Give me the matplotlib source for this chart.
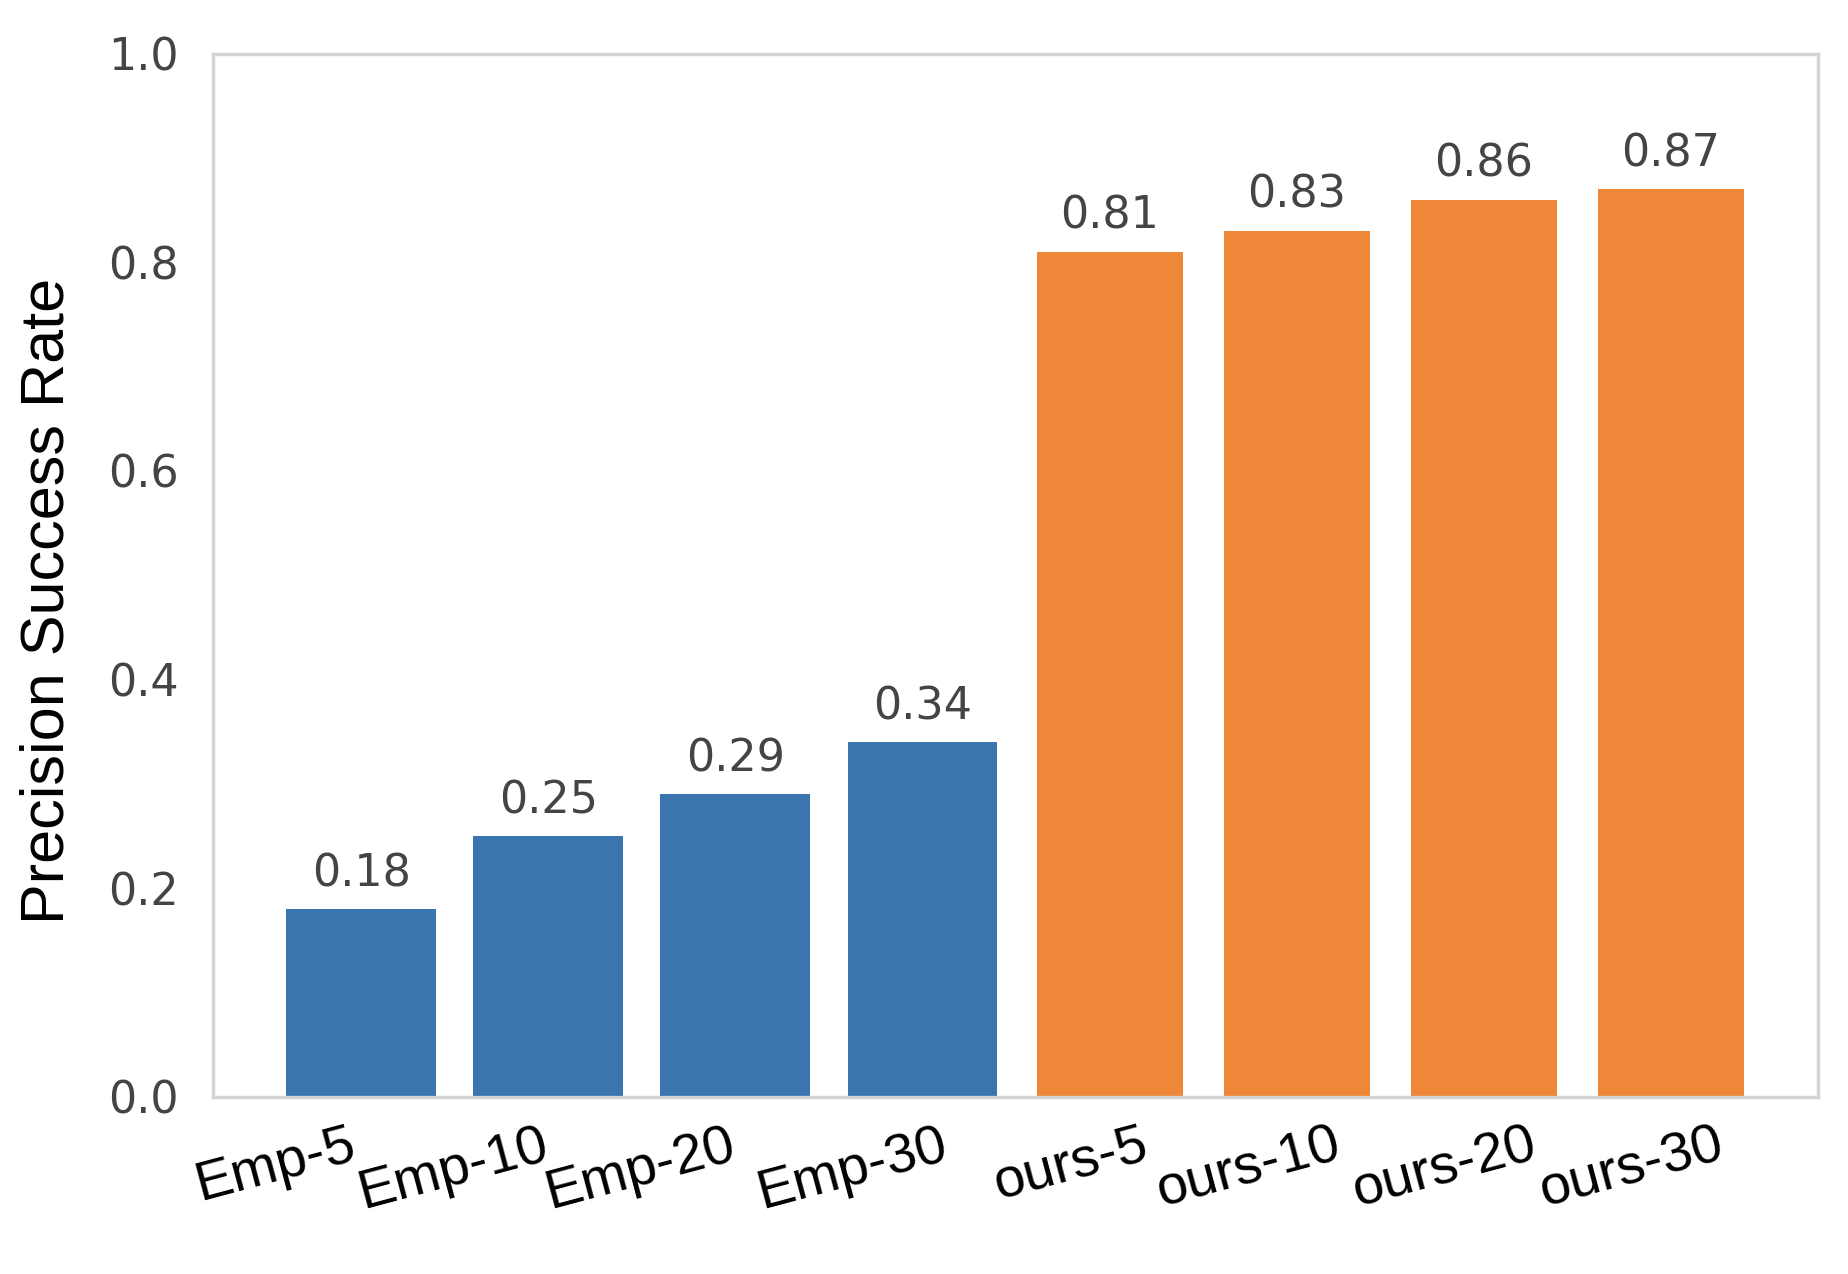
import matplotlib.pyplot as plt
from matplotlib.transforms import ScaledTranslation

# data
labels = ['Emp-5', 'Emp-10', 'Emp-20', 'Emp-30', 'ours-5', 'ours-10', 'ours-20', 'ours-30']
values = [0.18, 0.25, 0.29, 0.34, 0.81, 0.83, 0.86, 0.87]
groups = ['emp', 'emp', 'emp', 'emp', 'ours', 'ours', 'ours', 'ours']
colors = {'emp': '#3b75af', 'ours': '#ee8737'}
widths = {'emp': 0.8, 'ours': 0.78}
yticks = [0.0, 0.2, 0.4, 0.6, 0.8, 1.0]

# the x labels in the original sit a bit to the right (in points)
label_shift = [0, 2, 2, 11, 16, 18, 21, 21]

fig = plt.figure(figsize=(9.24, 6.37), dpi=200)
ax = fig.add_axes([0.115, 0.139, 0.869, 0.819])

x = list(range(len(labels)))
bars = ax.bar(x, values, width=[widths[g] for g in groups], color=[colors[g] for g in groups])

# value labels above the bars
for rect, v in zip(bars, values):
    ax.annotate(f'{v:.2f}', (rect.get_x() + rect.get_width() / 2, rect.get_height()),
                xytext=(0, 5), textcoords='offset points', ha='center', va='bottom',
                fontsize=16, color='#444444', family='DejaVu Sans')

ax.set_xlim(-0.794, 7.788)
ax.set_ylim(0, 1.0)
ax.set_yticks(yticks)
ax.set_yticklabels([f'{t:.1f}' for t in yticks], fontsize=16, color='#444444', family='DejaVu Sans')
ax.set_xticks(x)
ax.set_xticklabels(labels, rotation=15, ha='right', fontsize=20, family='Liberation Sans')
ax.tick_params(length=0, pad=12)
ax.tick_params(axis='x', pad=8)
for lab, dx in zip(ax.get_xticklabels(), label_shift):
    lab.set_transform(lab.get_transform() + ScaledTranslation(dx / 72, 0, fig.dpi_scale_trans))

ax.set_ylabel('Precision Success Rate', fontsize=22, family='Liberation Sans')
ax.yaxis.set_label_coords(-0.085, 0.475)

for s in ax.spines.values():
    s.set_color('#d3d3d3')
    s.set_linewidth(1.2)
ax.grid(False)

fig.savefig('out.png', dpi=200)
